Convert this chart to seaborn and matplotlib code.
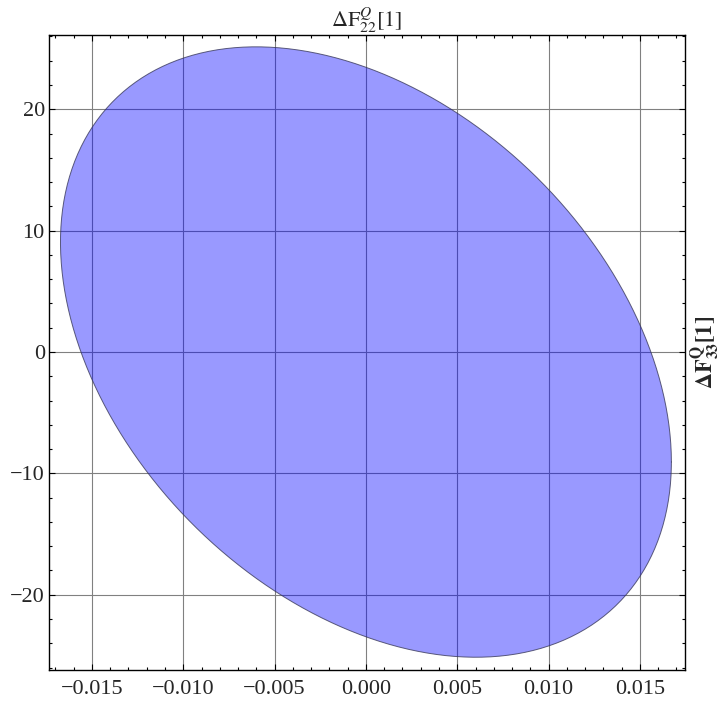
import numpy as np
import seaborn as sns
import matplotlib
matplotlib.use("Agg")
import matplotlib.pyplot as plt
from matplotlib.ticker import FixedLocator, MultipleLocator, FuncFormatter

# ellipse parameters (centre, half-widths along axes, correlation)
center = [0.0, 0.0]
half_width_x = 0.01672
half_width_y = 25.15
correlation = -0.36

x_ticks = [-0.015, -0.010, -0.005, 0.000, 0.005, 0.010, 0.015]
y_ticks = [-20, -10, 0, 10, 20]
x_limits = [-0.01735, 0.01745]
y_limits = [-26.2, 26.15]

title_text = r"$\Delta\mathrm{F}_{22}^{Q}[1]$"
side_text = r"$\mathbf{\Delta F}_{\mathbf{33}}^{\mathbf{Q}}\mathbf{[1]}$"


def ellipse_boundary(c, sx, sy, rho, n=400):
    t = np.linspace(0, 2 * np.pi, n)
    x = c[0] + sx * np.cos(t)
    y = c[1] + sy * (rho * np.cos(t) + np.sqrt(1 - rho ** 2) * np.sin(t))
    return x, y


sns.set_style("ticks")
plt.rcParams["font.family"] = ["Liberation Serif", "DejaVu Serif"]
plt.rcParams["mathtext.fontset"] = "stix"

fig = plt.figure(figsize=(7.2, 7.02), dpi=100)
ax = fig.add_axes([0.068, 0.0456, 0.883, 0.905])

ex, ey = ellipse_boundary(center, half_width_x, half_width_y, correlation)
ax.fill(ex, ey, color=(0.0, 0.0, 1.0), alpha=0.4, lw=0, zorder=2)
sns.lineplot(x=ex, y=ey, sort=False, estimator=None, color="#3a3a5a",
             lw=0.7, alpha=0.8, ax=ax, zorder=3)

ax.set_xlim(x_limits)
ax.set_ylim(y_limits)

ax.xaxis.set_major_locator(FixedLocator(x_ticks))
ax.xaxis.set_minor_locator(MultipleLocator(0.001))
ax.yaxis.set_major_locator(FixedLocator(y_ticks))
ax.yaxis.set_minor_locator(MultipleLocator(2))
ax.xaxis.set_major_formatter(FuncFormatter(lambda v, _: f"{v:.3f}".replace("-", "\u2212")
                                           if abs(v) > 1e-12 else "0.000"))
ax.yaxis.set_major_formatter(FuncFormatter(lambda v, _: f"{int(round(v))}".replace("-", "\u2212")))

ax.grid(True, which="major", color="#808080", lw=0.8, zorder=1)
ax.set_axisbelow(True)

ax.tick_params(which="both", direction="in", top=True, right=True,
               labelsize=16, color="black")
ax.tick_params(axis="x", which="major", pad=7)
ax.tick_params(axis="y", which="major", pad=3)
ax.tick_params(which="major", length=4, width=0.8)
ax.tick_params(which="minor", length=2.5, width=0.8)
for s in ax.spines.values():
    s.set_color("black")
    s.set_linewidth(1.0)

ax.set_xlabel("")
ax.set_ylabel("")
ax.set_title(title_text, fontsize=16, pad=5)
ax.text(1.031, 0.5, side_text, transform=ax.transAxes, rotation=90,
        ha="center", va="center", fontsize=16)

fig.savefig("out.png", dpi=100)
